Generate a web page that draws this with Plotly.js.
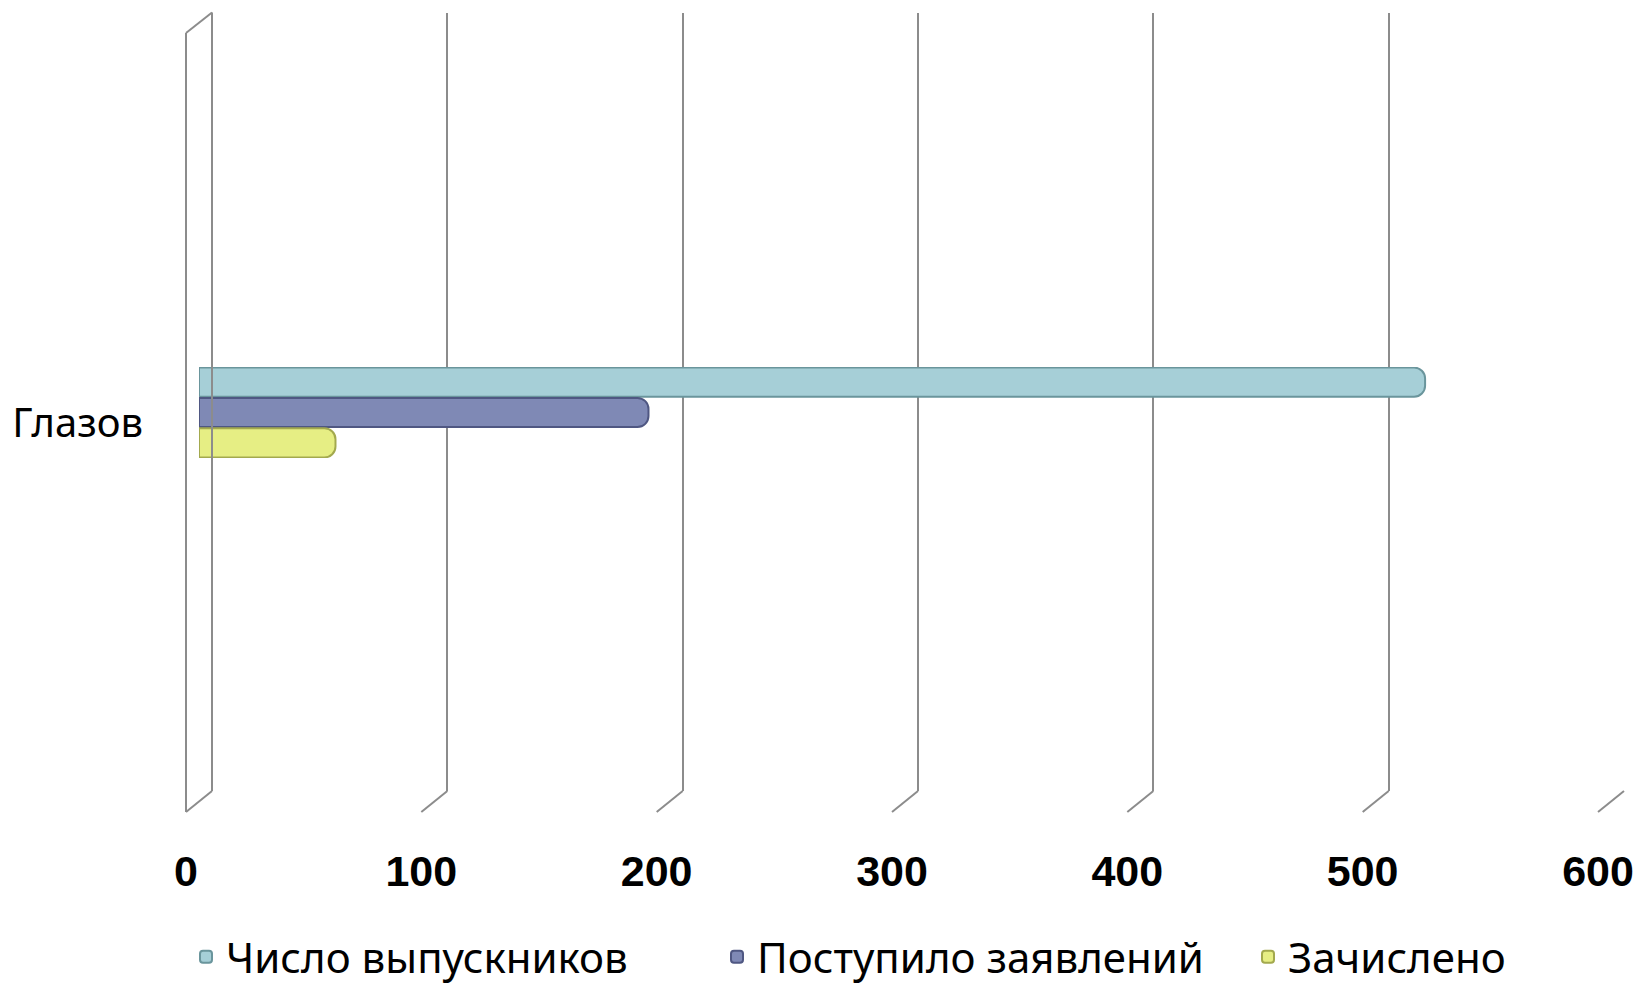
<!DOCTYPE html>
<html>
<head>
<meta charset="utf-8">
<script src="https://cdn.plot.ly/plotly-3.0.1.min.js"></script>
<style>html,body{margin:0;padding:0;background:#fff}#chart{width:1637px;height:985px}</style>
</head>
<body>
<div id="chart"></div>
<script>
// ---- data ----
const CATEGORIES = ['Глазов'];
const SERIES_NAMES = ['Число выпускников', 'Поступило заявлений', 'Зачислено'];
const GRADUATES = [521];
const APPLICATIONS = [191];
const ENROLLED = [58];
const TICK_VALUES = [0, 100, 200, 300, 400, 500, 600];
const TICK_LABELS = ['0', '100', '200', '300', '400', '500', '600'];

// ---- geometry / style ----
const W = 1637, H = 985;
const FRONT_LEFT = 186, BACK_LEFT = 212, MID_LEFT = 199, SPAN = 1412;
const FRONT_TOP = 33, FRONT_BOTTOM = 812, BACK_TOP = 12.5, BACK_BOTTOM = 791;
const BAR_TOP = 367, BAR_BOTTOM = 458;
const XMAX = TICK_VALUES[TICK_VALUES.length - 1];
const GRID = '#8c8c8c';
const px = v => v / W, py = v => 1 - v / H;
const backX = t => px(BACK_LEFT + t / XMAX * SPAN);
const frontX = t => px(FRONT_LEFT + t / XMAX * SPAN);

const FILL = ['#a6cfd7', '#7f89b5', '#e6ee84'];
const EDGE = ['#6a959c', '#4f5782', '#a3a94e'];
const SERIES = [GRADUATES, APPLICATIONS, ENROLLED];

const traces = SERIES.map((vals, i) => ({
  type: 'bar', orientation: 'h', name: SERIES_NAMES[i],
  x: vals, y: CATEGORIES, xaxis: 'x3', yaxis: 'y3',
  marker: {color: FILL[i], line: {color: EDGE[i], width: 2}, cornerradius: 11},
  hoverinfo: 'x+name'
}));
// helper traces so the front and back planes exist
traces.push({type: 'scatter', x: [], y: [], xaxis: 'x', yaxis: 'y', showlegend: false, hoverinfo: 'skip'});
traces.push({type: 'scatter', x: [], y: [], xaxis: 'x2', yaxis: 'y2', showlegend: false, hoverinfo: 'skip'});

const line = {color: GRID, width: 2};
const shapes = [];
// left wall: front edge, back edge, top edge
shapes.push({type: 'line', xref: 'paper', yref: 'paper', x0: frontX(0), x1: frontX(0), y0: py(FRONT_TOP), y1: py(FRONT_BOTTOM), line});
shapes.push({type: 'line', xref: 'paper', yref: 'paper', x0: backX(0), x1: backX(0), y0: py(BACK_TOP), y1: py(BACK_BOTTOM), line});
shapes.push({type: 'line', xref: 'paper', yref: 'paper', x0: backX(0), x1: frontX(0), y0: py(BACK_TOP), y1: py(FRONT_TOP), line});
// floor diagonals at each tick
TICK_VALUES.forEach(t => shapes.push({type: 'line', xref: 'paper', yref: 'paper', x0: backX(t), x1: frontX(t),
  y0: py(BACK_BOTTOM), y1: py(FRONT_BOTTOM), line}));

const layout = {
  width: W, height: H,
  margin: {l: 0, r: 0, t: 0, b: 0, autoexpand: false},
  paper_bgcolor: '#fff', plot_bgcolor: 'rgba(0,0,0,0)',
  showlegend: true,
  barmode: 'group', bargap: 0, bargroupgap: 0.04,
  xaxis: {domain: [px(FRONT_LEFT), px(FRONT_LEFT + SPAN)], range: [0, XMAX], anchor: 'y',
    tickvals: TICK_VALUES, ticktext: TICK_LABELS, showgrid: false, zeroline: false, showline: false,
    ticks: '', ticklabelstandoff: 30,
    tickfont: {family: 'Liberation Sans, Arial, sans-serif', size: 43, color: '#000', weight: 'bold'}},
  yaxis: {domain: [py(FRONT_BOTTOM), py(FRONT_TOP)], range: [-0.5, 0.5], anchor: 'x',
    tickvals: [0], ticktext: CATEGORIES, showgrid: false, zeroline: false, showline: false,
    ticks: '', ticklabelstandoff: 42,
    tickfont: {family: 'Noto Sans, sans-serif', size: 40, color: '#000'}},
  xaxis2: {domain: [px(BACK_LEFT), px(BACK_LEFT + SPAN)], range: [0, XMAX], anchor: 'y2',
    tickvals: TICK_VALUES, showticklabels: false, ticks: '', showgrid: true, gridcolor: GRID, gridwidth: 2,
    zeroline: false, showline: false},
  yaxis2: {domain: [py(BACK_BOTTOM), py(BACK_TOP)], range: [0, 1], anchor: 'x2',
    showticklabels: false, showgrid: false, zeroline: false, showline: false},
  xaxis3: {domain: [px(MID_LEFT), px(MID_LEFT + SPAN)], range: [0, XMAX], anchor: 'y3',
    showticklabels: false, showgrid: false, zeroline: false, showline: false, ticks: ''},
  yaxis3: {domain: [py(BAR_BOTTOM), py(BAR_TOP)], anchor: 'x3', type: 'category', autorange: 'reversed',
    showticklabels: false, showgrid: false, zeroline: false, showline: false, ticks: ''},
  legend: {orientation: 'h', x: px(186), xanchor: 'left', y: py(957), yanchor: 'middle',
    font: {family: 'Noto Sans, sans-serif', size: 42, color: '#000'},
    entrywidth: 486, entrywidthmode: 'pixels', bgcolor: 'rgba(0,0,0,0)'},
  shapes: shapes
};

Plotly.newPlot('chart', traces, layout, {displayModeBar: false, responsive: false});
</script>
</body>
</html>
